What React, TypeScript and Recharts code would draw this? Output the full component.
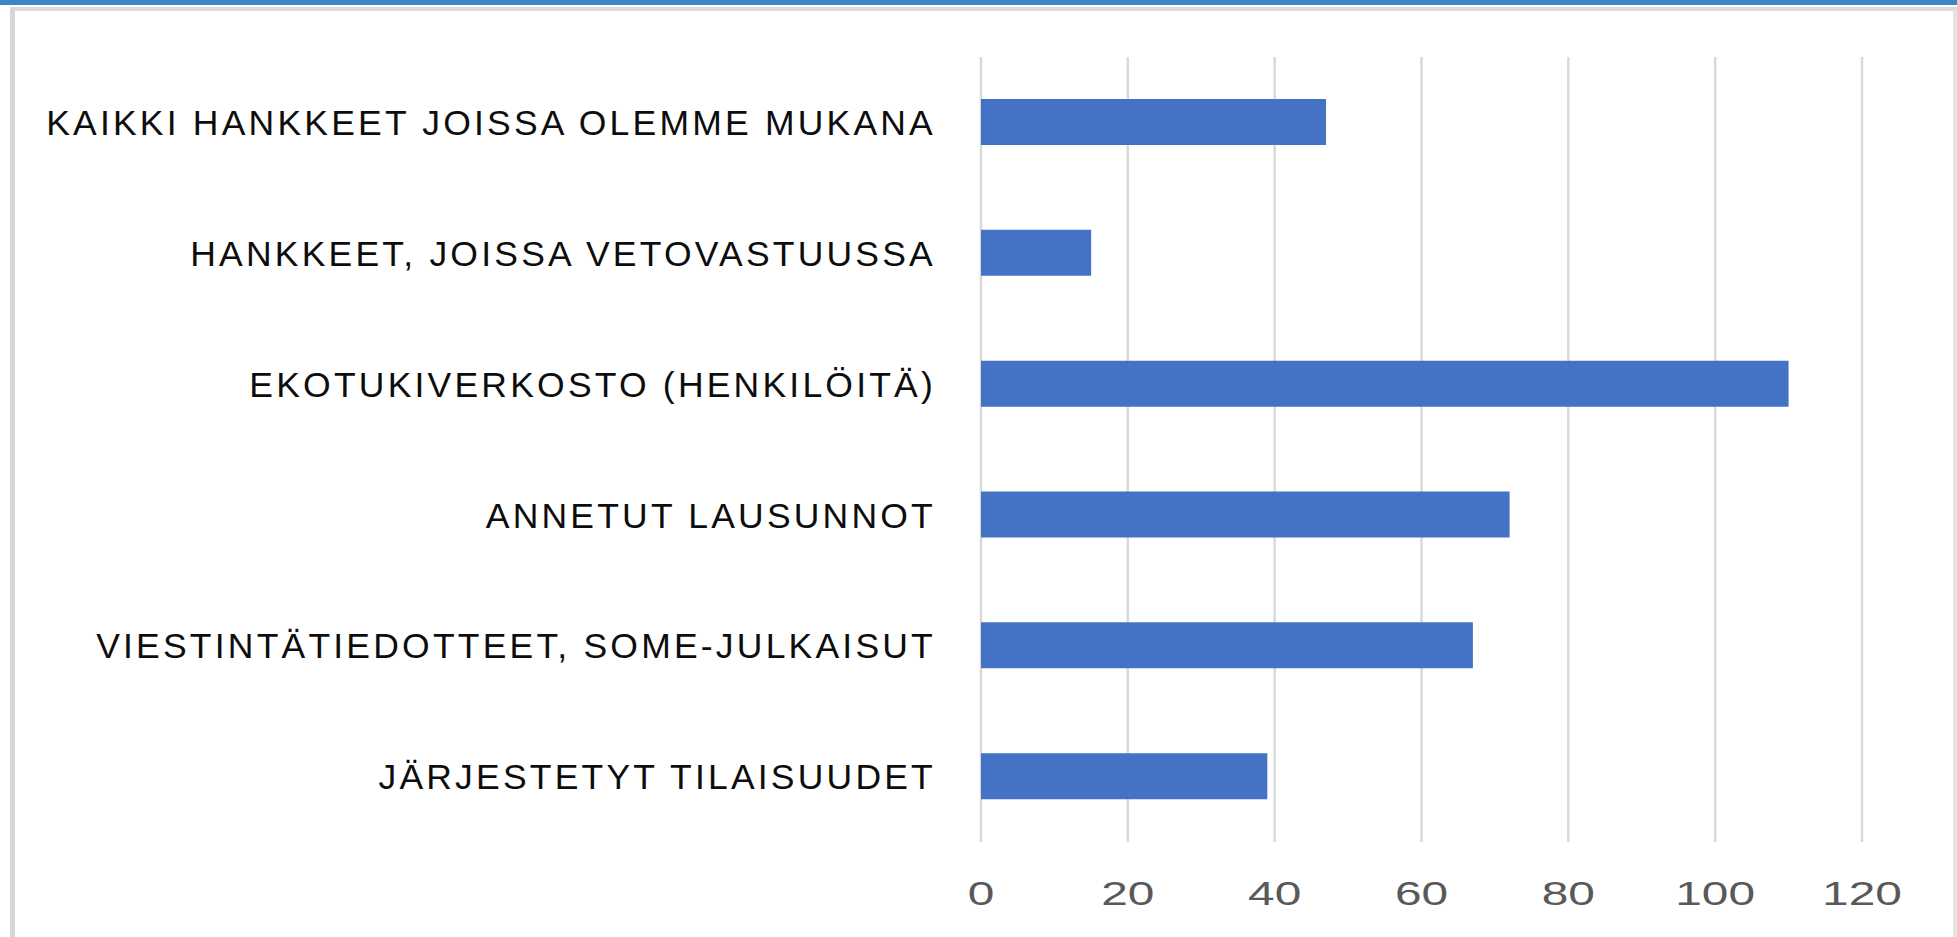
import React from "react";
import { BarChart, Bar, XAxis, YAxis, CartesianGrid } from "recharts";

const categories = [
  "KAIKKI HANKKEET JOISSA OLEMME MUKANA",
  "HANKKEET, JOISSA VETOVASTUUSSA",
  "EKOTUKIVERKOSTO (HENKILÖITÄ)",
  "ANNETUT LAUSUNNOT",
  "VIESTINTÄTIEDOTTEET, SOME-JULKAISUT",
  "JÄRJESTETYT TILAISUUDET",
];
const values = [47, 15, 110, 72, 67, 39];
const xTicks = [0, 20, 40, 60, 80, 100, 120];

const data = categories.map((name, i) => ({ name, value: values[i] }));

const FONT = "'Liberation Sans', Arial, sans-serif";

const YTick = (props: any) => {
  const { x, y, payload } = props;
  return (
    <text
      x={x}
      y={y}
      dy="0.355em"
      textAnchor="end"
      fill="#0d0d0d"
      fontFamily={FONT}
      fontSize={35.5}
      letterSpacing={3.2}
    >
      {payload.value}
    </text>
  );
};

const XTick = (props: any) => {
  const { x, y, payload } = props;
  return (
    <g transform={`translate(${x},${y})`}>
      <text
        x={0}
        y={0}
        dy={63}
        transform="scale(1.45,1)"
        textAnchor="middle"
        fill="#595959"
        fontFamily={FONT}
        fontSize={33}
      >
        {payload.value}
      </text>
    </g>
  );
};

export default function App() {
  return (
    <div
      style={{
        position: "absolute",
        left: 0,
        top: 0,
        width: 1957,
        height: 937,
        background: "#ffffff",
        overflow: "hidden",
      }}
    >
      <div
        style={{
          position: "absolute",
          left: 0,
          top: 0,
          width: 1957,
          height: 5,
          background: "#3a86c6",
        }}
      />
      <div
        style={{
          position: "absolute",
          left: 10,
          top: 7,
          width: 1957 - 10 - 4 - 5,
          height: 960,
          borderLeft: "5px solid #d6d6d6",
          borderTop: "4px solid #dadada",
          borderRight: "4px solid #e4e4e4",
        }}
      />
      <div style={{ position: "absolute", left: 0, top: 0 }}>
        <BarChart
          width={1957}
          height={937}
          data={data}
          layout="vertical"
          margin={{ top: 57, right: 95, bottom: 0, left: 0 }}
        >
          <CartesianGrid
            horizontal={false}
            vertical={true}
            stroke="#d9d9d9"
            strokeWidth={2.5}
          />
          <XAxis
            type="number"
            domain={[0, 120]}
            ticks={xTicks}
            interval={0}
            axisLine={false}
            tickLine={false}
            tickSize={0}
            tickMargin={0}
            height={95}
            tick={<XTick />}
          />
          <YAxis
            type="category"
            dataKey="name"
            width={981}
            axisLine={false}
            tickLine={false}
            tickSize={0}
            tickMargin={45}
            interval={0}
            tick={<YTick />}
          />
          <Bar
            dataKey="value"
            fill="#4472c4"
            barSize={46}
            isAnimationActive={false}
          />
        </BarChart>
      </div>
    </div>
  );
}
